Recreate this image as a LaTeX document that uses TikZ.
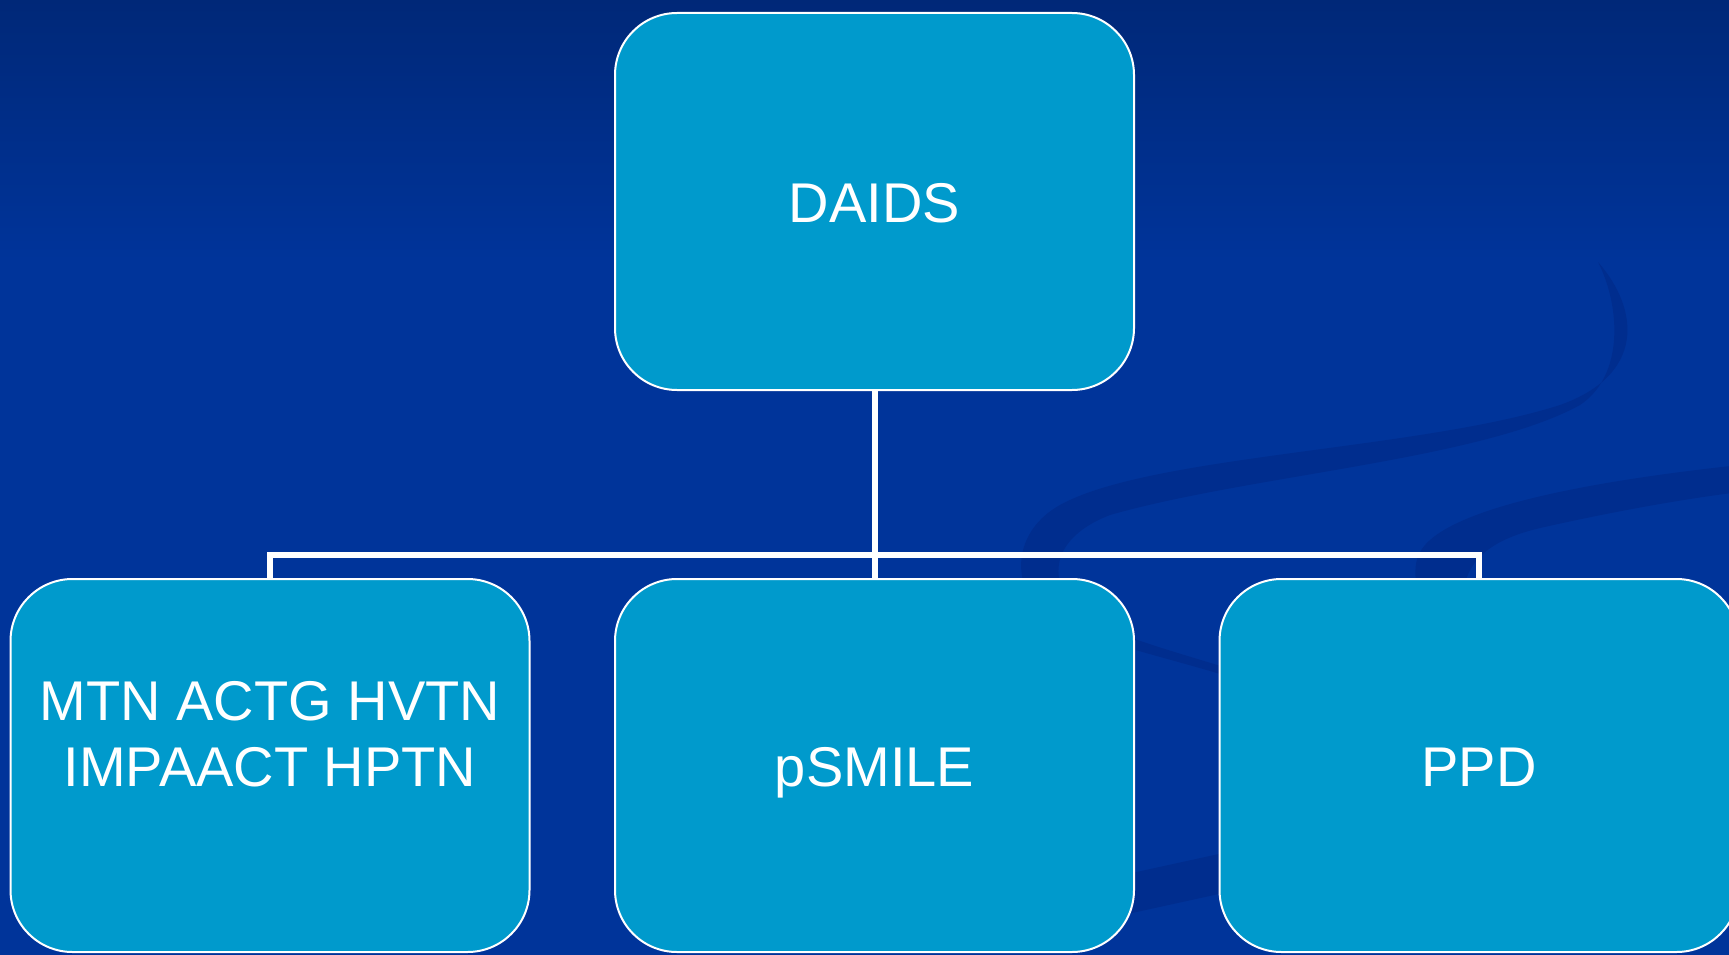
\documentclass[tikz,border=0pt]{standalone}
\usepackage{fontspec}
\setmainfont{Liberation Sans}
\definecolor{bgtop}{RGB}{0,40,120}
\definecolor{bgmain}{RGB}{0,52,154}
\definecolor{swirl}{RGB}{0,45,142}
\definecolor{boxfill}{RGB}{0,154,204}
\begin{document}
\begin{tikzpicture}[x=1pt,y=-1pt,
  orgbox/.style={draw=white,line width=2pt,fill=boxfill,rounded corners=62pt,inner sep=0pt,minimum width=519pt,minimum height=#1},
  orgtext/.style={text=white,font=\fontsize{56}{66}\selectfont,align=center,inner sep=0pt},
  link/.style={draw=white,line width=6pt}]
\useasboundingbox (0,0) rectangle (1729,955);
% background
\fill[bgmain] (0,0) rectangle (1729,955);
\shade[top color=bgtop,bottom color=bgmain] (0,0) rectangle (1729,260);
% decorative swirls
\fill[swirl]
  (1598,262) .. controls (1640,310) and (1645,375) .. (1560,405)
  .. controls (1420,450) and (1150,455) .. (1060,505)
  .. controls (1015,530) and (1010,580) .. (1040,610)
  .. controls (1080,640) and (1150,652) .. (1240,680)
  -- (1240,672)
  .. controls (1150,644) and (1090,630) .. (1068,600)
  .. controls (1048,570) and (1058,535) .. (1110,515)
  .. controls (1250,475) and (1480,460) .. (1580,405)
  .. controls (1625,375) and (1620,305) .. (1598,262) -- cycle;
\fill[swirl]
  (1740,465) .. controls (1600,480) and (1460,505) .. (1425,545)
  .. controls (1412,560) and (1415,575) .. (1418,600)
  -- (1462,600)
  .. controls (1465,560) and (1490,540) .. (1540,528)
  .. controls (1620,510) and (1690,498) .. (1740,492) -- cycle;
\fill[swirl] (1100,880) -- (1260,845) -- (1260,885) -- (1100,920) -- cycle;
% boxes
\node[orgbox=377pt] (daids) at (874.5,201.5) {};
\node[orgbox=373pt] (mtn) at (270,765.5) {};
\node[orgbox=373pt] (psmile) at (874.5,765.5) {};
\node[orgbox=373pt] (ppd) at (1479,765.5) {};
% texts
\node[orgtext,anchor=base] (tdaids) at (874.5,222.3) {DAIDS};
\node[orgtext,anchor=north] (tmtn) at (270,681) {MTN ACTG HVTN\\IMPAACT HPTN};
\node[orgtext,anchor=base] (tpsmile) at (874.5,786) {pSMILE};
\node[orgtext,anchor=base] (tppd) at (1479,786.5) {PPD};
% connectors
\coordinate (bar) at (874.5,555);
\draw[link] (daids.south) -- (bar);
\draw[link,line join=miter] (mtn.north) |- (bar) -| (ppd.north);
\draw[link] (bar) -- (psmile.north);
\end{tikzpicture}
\end{document}
